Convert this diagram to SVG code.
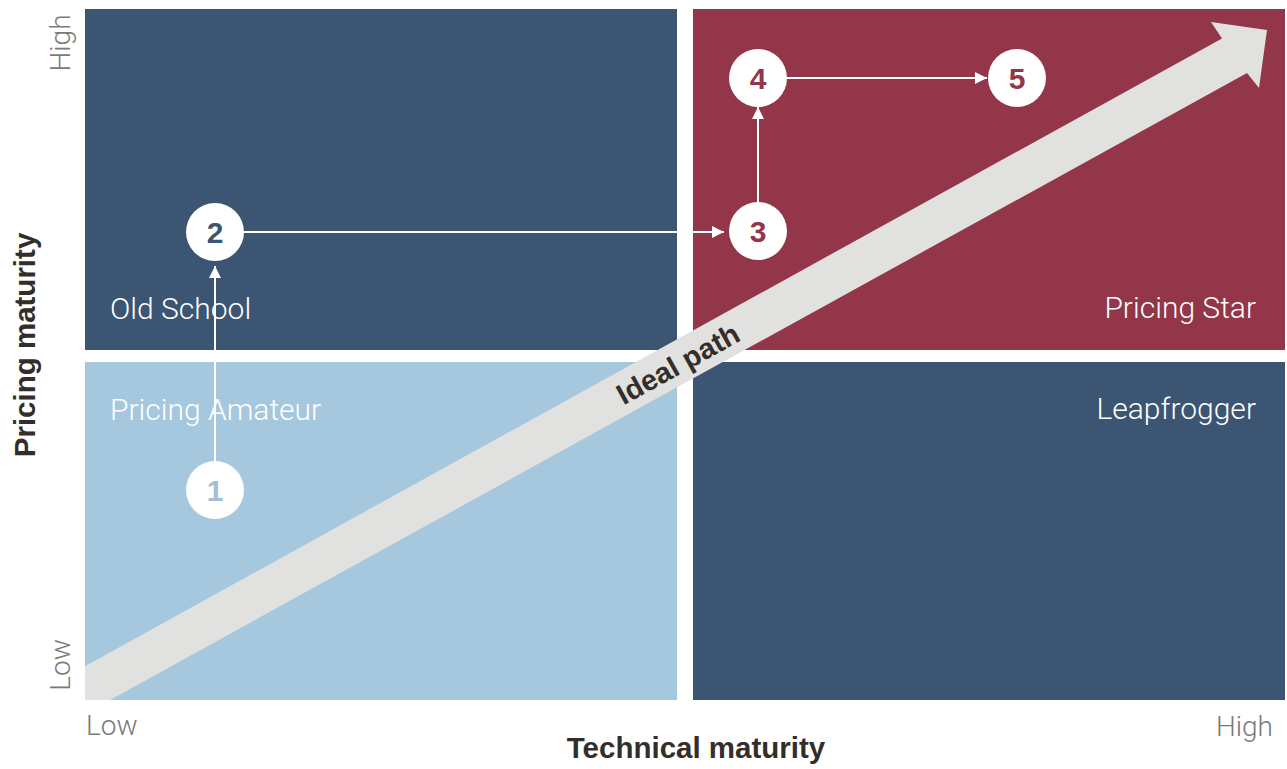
<svg xmlns="http://www.w3.org/2000/svg" width="1287" height="769" viewBox="0 0 1287 769">
  <style>
    .quad-dark { fill: #3b5572; }
    .quad-red { fill: #93364a; }
    .quad-light { fill: #a5c8de; }
    .qlabel { font-family: Roboto, "Liberation Sans", sans-serif; font-weight: 300; font-size: 30px; fill: #ffffff; }
    .axis { font-family: Roboto, "Liberation Sans", sans-serif; font-weight: 300; font-size: 28px; fill: #7a7a78; }
    .title { font-family: "Liberation Sans", Arial, sans-serif; font-weight: bold; font-size: 29.5px; fill: #332e2a; }
    .band-label { font-family: "Liberation Sans", Arial, sans-serif; font-weight: bold; font-size: 29px; fill: #332e2a; }
    .node circle { fill: #ffffff; }
    .node text { font-family: "Liberation Sans", Arial, sans-serif; font-weight: bold; font-size: 30px; text-anchor: middle; }
    .link { stroke: #ffffff; stroke-width: 2; fill: none; marker-end: url(#head); }
  </style>
  <defs>
    <marker id="head" markerUnits="userSpaceOnUse" viewBox="0 0 12 12" markerWidth="12" markerHeight="12" refX="12" refY="6" orient="auto">
      <path d="M0,0 L12,6 L0,12 z" fill="#ffffff"/>
    </marker>
    <clipPath id="plot">
      <rect x="85" y="0" width="1202" height="700"/>
    </clipPath>
  </defs>

  <!-- quadrants -->
  <g id="quadrants">
    <rect id="q-old-school" class="quad-dark" x="85" y="9" width="592" height="341"/>
    <rect id="q-pricing-star" class="quad-red" x="693" y="9" width="592" height="341"/>
    <rect id="q-pricing-amateur" class="quad-light" x="85" y="362" width="592" height="338"/>
    <rect id="q-leapfrogger" class="quad-dark" x="693" y="362" width="592" height="338"/>
  </g>

  <!-- quadrant names -->
  <g id="quadrant-labels">
    <text class="qlabel" x="110" y="319">Old School</text>
    <text class="qlabel" x="1256" y="318" text-anchor="end">Pricing Star</text>
    <text class="qlabel" x="110" y="420">Pricing Amateur</text>
    <text class="qlabel" x="1256" y="419" text-anchor="end">Leapfrogger</text>
  </g>

  <!-- axis annotations -->
  <g id="axes">
    <text class="axis" transform="translate(70,43) rotate(-90)" text-anchor="middle">High</text>
    <text class="axis" transform="translate(70,665) rotate(-90)" text-anchor="middle">Low</text>
    <text class="axis" x="86" y="735">Low</text>
    <text class="axis" x="1273" y="736" text-anchor="end">High</text>
    <text class="title" transform="translate(35,345) rotate(-90)" text-anchor="middle">Pricing maturity</text>
    <text class="title" x="696" y="758" text-anchor="middle">Technical maturity</text>
  </g>

  <!-- ideal path band -->
  <g id="ideal-path">
    <polygon clip-path="url(#plot)" fill="#e1e1df" points="60,680 1222,38.4 1211,22 1267,30 1259,88 1247,73 60,727.6"/>
    <text class="band-label" transform="translate(678,364) rotate(-28.9)" x="0" y="10" text-anchor="middle">Ideal path</text>
  </g>

  <!-- connectors -->
  <g id="connectors">
    <line class="link" x1="215" y1="461" x2="215" y2="266"/>
    <line class="link" x1="244" y1="232" x2="724" y2="232"/>
    <line class="link" x1="758" y1="202" x2="758" y2="107"/>
    <line class="link" x1="787" y1="78" x2="987" y2="78"/>
  </g>

  <!-- steps -->
  <g id="node-1" class="node">
    <circle cx="215" cy="490" r="29"/>
    <text x="215" y="501" fill="#a6bdd6">1</text>
  </g>
  <g id="node-2" class="node">
    <circle cx="215" cy="232" r="29"/>
    <text x="215" y="243" fill="#3b5572">2</text>
  </g>
  <g id="node-3" class="node">
    <circle cx="758" cy="231" r="29"/>
    <text x="758" y="242" fill="#93364a">3</text>
  </g>
  <g id="node-4" class="node">
    <circle cx="758" cy="78" r="29"/>
    <text x="758" y="89" fill="#93364a">4</text>
  </g>
  <g id="node-5" class="node">
    <circle cx="1017" cy="78" r="29"/>
    <text x="1017" y="89" fill="#93364a">5</text>
  </g>
</svg>
